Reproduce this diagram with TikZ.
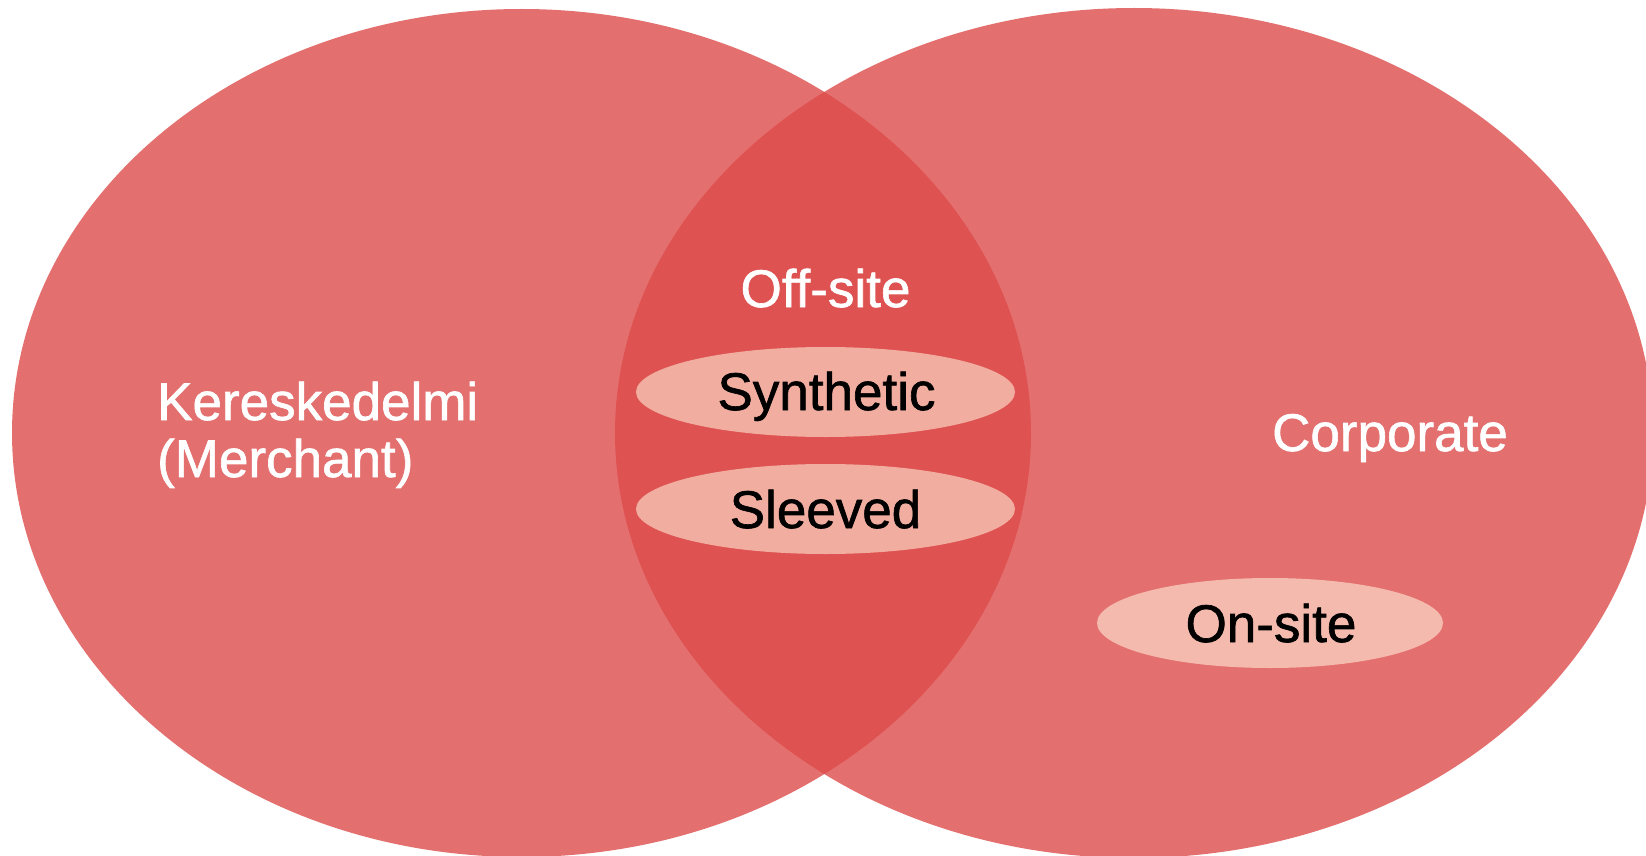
\documentclass[tikz,border=0pt]{standalone}
\usepackage{fontspec}
\setmainfont{Liberation Sans}
\newfontfamily\medfont{Liberation Sans}[FakeBold=1.2]
\usetikzlibrary{shapes.geometric}
\definecolor{setred}{RGB}{221,75,75}
\definecolor{pinkin}{RGB}{241,174,160}
\definecolor{pinkout}{RGB}{244,186,173}
\tikzset{
  bigset/.style={ellipse, fill=setred, fill opacity=0.8, draw=none, inner sep=0pt},
  subset/.style={ellipse, draw=none, inner sep=0pt, minimum height=90pt},
  whitelbl/.style={text=white, inner sep=0pt, font=\medfont\fontsize{53}{57}\selectfont},
  blacklbl/.style={text=black, inner sep=0pt, font=\medfont\fontsize{53}{57}\selectfont},
}
\begin{document}
\begin{tikzpicture}[x=1pt,y=-1pt]
\useasboundingbox (0,0) rectangle (1646,856);
\node[bigset, minimum width=1019pt, minimum height=848pt] (merchant) at (521.5,433) {};
\node[bigset, minimum width=1038pt, minimum height=850pt] (corporate) at (1134,433) {};
\node[subset, fill=pinkin, minimum width=379pt] (synth) at (825.5,392) {};
\node[subset, fill=pinkin, minimum width=379pt] (sleeve) at (825.5,509) {};
\node[subset, fill=pinkout, minimum width=346pt] (onsite) at (1270,623) {};
\node[whitelbl, anchor=base] (offsitelbl) at (825.5,307) {Off-site};
\node[blacklbl, anchor=base] (synthlbl) at (826.5,410) {Synthetic};
\node[blacklbl, anchor=base] (sleevelbl) at (825.5,528) {Sleeved};
\node[blacklbl, anchor=base] (onsitelbl) at (1271,642) {On-site};
\node[whitelbl, anchor=base] (corplbl) at (1390,451) {Corporate};
\node[whitelbl, anchor=base west, align=left] (merchlbl) at (157,477) {Kereskedelmi\\(Merchant)};
\end{tikzpicture}
\end{document}
